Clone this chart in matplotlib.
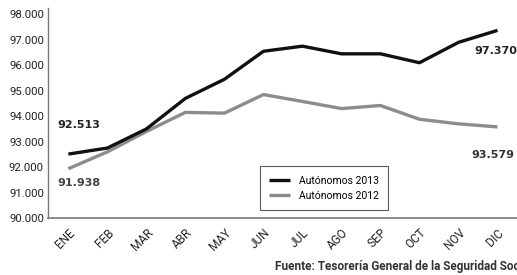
import numpy as np
import matplotlib.pyplot as plt

meses = ['ENE', 'FEB', 'MAR', 'ABR', 'MAY', 'JUN', 'JUL', 'AGO', 'SEP', 'OCT', 'NOV', 'DIC']
aut_2013 = [92513, 92750, 93500, 94700, 95450, 96550, 96750, 96450, 96450, 96100, 96900, 97370]
aut_2012 = [91938, 92600, 93400, 94150, 94120, 94850, 94580, 94300, 94420, 93880, 93700, 93579]
y_ticks = [90000, 91000, 92000, 93000, 94000, 95000, 96000, 97000, 98000]

fuente_cond = ['Roboto', 'DejaVu Sans']


def miles(v):
    return f'{v:,.0f}'.replace(',', '.')


fig = plt.figure(figsize=(5.17, 2.75), dpi=100)
ax = fig.add_axes([0.093, 0.207, 0.907, 0.764])

x = np.arange(len(meses))
ax.plot(x, aut_2013, color='#111111', lw=2.4, solid_capstyle='butt', label='Autónomos 2013', zorder=3)
ax.plot(x, aut_2012, color='#8c8c8c', lw=2.4, solid_capstyle='butt', label='Autónomos 2012', zorder=2)

ax.set_xlim(-0.52, 11.5)
ax.set_ylim(90000, 98250)
ax.set_yticks(y_ticks)
ax.set_yticklabels([miles(v) for v in y_ticks], family=fuente_cond, fontsize=8.2, color='#222222')
ax.set_xticks(x)
ax.set_xticklabels(meses, family=fuente_cond, fontsize=8.5, rotation=45, color='#222222',
                   ha='right', rotation_mode='anchor')
ax.tick_params(length=0, pad=3)
ax.tick_params(axis='x', pad=6)

for s in ['top', 'right']:
    ax.spines[s].set_visible(False)
ax.spines['left'].set_color('#777777')
ax.spines['bottom'].set_color('#777777')
ax.spines['left'].set_linewidth(1)
ax.spines['bottom'].set_linewidth(1.2)

# etiquetas de inicio y fin
ax.annotate(miles(aut_2013[0]), (x[0], aut_2013[0]), xytext=(-8, 21), textcoords='offset points',
            fontsize=8, fontweight='bold', color='#222222', ha='left', va='center')
ax.annotate(miles(aut_2012[0]), (x[0], aut_2012[0]), xytext=(-8, -10.5), textcoords='offset points',
            fontsize=8, fontweight='bold', color='#444444', ha='left', va='center')
ax.annotate(miles(aut_2013[-1]), (x[-1], aut_2013[-1]), xytext=(-17, -15), textcoords='offset points',
            fontsize=8, fontweight='bold', color='#222222', ha='left', va='center')
ax.annotate(miles(aut_2012[-1]), (x[-1], aut_2012[-1]), xytext=(-19, -20), textcoords='offset points',
            fontsize=8, fontweight='bold', color='#333333', ha='left', va='center')

leg = ax.legend(loc='lower left', bbox_to_anchor=(0.452, 0.038), frameon=True, fancybox=False,
                prop={'family': fuente_cond, 'size': 7.5}, handlelength=2.0, handletextpad=0.8,
                borderpad=0.9, labelspacing=0.5, borderaxespad=0)
leg.get_frame().set_edgecolor('#333333')
leg.get_frame().set_linewidth(0.8)

fig.text(0.532, 0.03, 'Fuente: Tesorería General de la Seguridad Social', family=fuente_cond,
         fontsize=8.5, fontweight='bold', color='#333333', ha='left', va='center')

fig.savefig('out.png', dpi=100)
